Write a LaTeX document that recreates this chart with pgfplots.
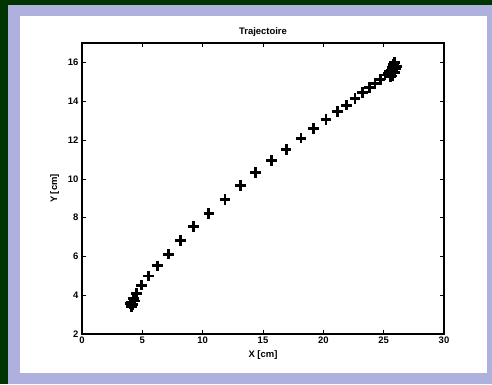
\documentclass[border=0pt]{standalone}
\usepackage{pgfplots}
\pgfplotsset{compat=1.18}
\usepackage{fontspec}
\setmainfont{Liberation Sans}
\definecolor{framegreen}{RGB}{0,52,0}
\definecolor{lavender}{RGB}{174,176,222}
\begin{document}
\begin{tikzpicture}[x=1bp,y=1bp]
  % figure window: dark border, lavender frame, white canvas
  \useasboundingbox (0,0) rectangle (492,384);
  \fill[framegreen] (0,0) rectangle (492,384);
  \fill[lavender] (8,0) rectangle (492,379);
  \fill[white] (20,11) rectangle (487,368);
  \begin{axis}[
    at={(82bp,50bp)}, anchor=south west,
    scale only axis, width=362bp, height=291bp,
    xmin=0, xmax=30, ymin=2, ymax=17,
    xtick={0,5,...,30}, ytick={2,4,...,16},
    tick align=inside, major tick length=4bp,
    tick style={black, line width=0.6bp},
    axis line style={line width=1.3bp},
    /pgf/number format/assume math mode=true,
    ticklabel style={font=\fontsize{9.5}{11}\selectfont\bfseries},
    label style={font=\fontsize{9.5}{11}\selectfont\bfseries},
    title style={font=\fontsize{9.5}{11}\selectfont\bfseries, yshift=-3bp},
    xtick pos=both, ytick pos=both,
    xticklabel style={yshift=1bp},
    xlabel={X [cm]}, ylabel={Y [cm]},
    xlabel style={yshift=-1bp}, ylabel style={yshift=2bp},
    title={Trajectoire},
  ]
    \addplot[only marks, mark=+, mark size=5.3bp, line width=2.9bp, black]
      coordinates {
        (4.11,3.40) (3.98,3.58) (4.05,3.65) (4.25,3.84) (4.35,3.70)
        (4.20,3.52) (4.53,4.09) (4.94,4.52) (5.52,4.99) (6.24,5.51)
        (7.15,6.12) (8.15,6.81) (9.23,7.53) (10.52,8.22) (11.85,8.94)
        (13.12,9.66) (14.39,10.33) (15.72,10.95) (16.91,11.52) (18.15,12.10)
        (19.17,12.60) (20.22,13.07) (21.16,13.46) (21.93,13.80) (22.62,14.13)
        (23.23,14.44) (23.81,14.71) (24.28,14.92) (24.70,15.13) (25.11,15.35)
        (25.40,15.45) (25.60,15.60) (25.80,15.90) (25.90,16.00) (26.10,15.80)
        (25.70,15.30) (25.90,15.50) (26.00,15.70) (25.60,15.25) (25.75,15.75)
      };
  \end{axis}
\end{tikzpicture}
\end{document}
